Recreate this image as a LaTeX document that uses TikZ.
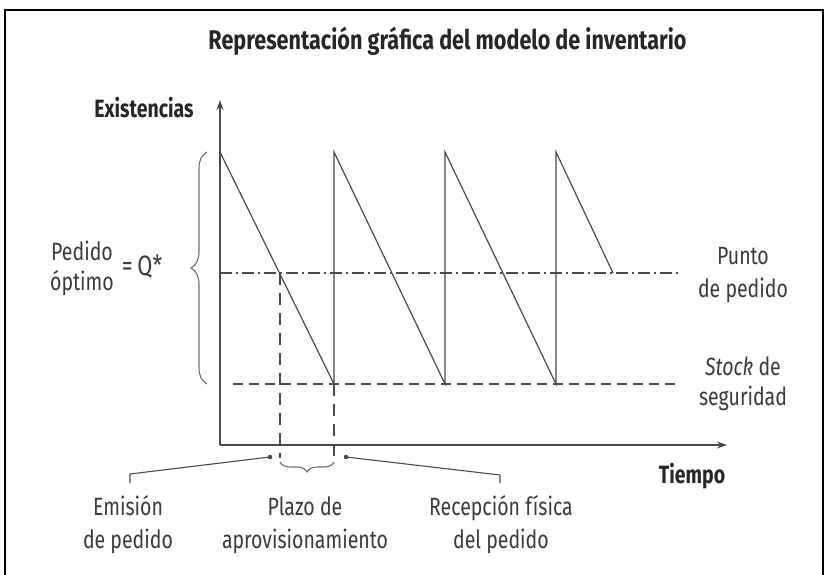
\documentclass[tikz,border=0pt]{standalone}
\usepackage{fontspec}
\setmainfont[FakeStretch=0.78]{Fira Sans}
\newfontfamily\titlefam[FakeStretch=0.8]{Fira Sans}
\newfontfamily\boldfam[FakeStretch=0.78]{Fira Sans}
\usetikzlibrary{decorations.pathreplacing,arrows.meta}
\definecolor{ink}{HTML}{3A3A3A}
\definecolor{dark}{HTML}{262626}
\definecolor{lin}{HTML}{4A4A4A}
\begin{document}
\begin{tikzpicture}[x=1pt,y=-1pt,
  lbl/.style={font=\fontsize{25}{33}\selectfont, text=ink, align=center, inner sep=0pt, anchor=base},
  tightlbl/.style={lbl, font=\fontsize{25}{30}\selectfont},
  boldlbl/.style={font=\fontsize{25}{30}\selectfont\boldfam\bfseries, text=dark, inner sep=0pt, anchor=base},
  axisline/.style={draw=lin, line width=1.6pt, -{Stealth[length=10pt,width=7pt]}},
  saw/.style={draw=lin, line width=1.2pt, line join=miter},
  dashdotline/.style={draw=lin, line width=1.1pt, dash pattern=on 12pt off 4pt on 2pt off 4pt},
  dashline/.style={draw=lin, line width=1.1pt, dash pattern=on 10pt off 6pt},
  vdashline/.style={draw=lin, line width=1.1pt, dash pattern=on 12pt off 8pt},
  bracestyle/.style={draw=lin!80, line width=1.1pt, decorate},
  leader/.style={draw=lin, line width=1.1pt},
  dotmark/.style={circle, fill=lin, inner sep=0pt, minimum size=4.5pt}
]
\useasboundingbox (0,0) rectangle (828,575);
% frame
\draw[line width=2pt, black] (5,577) -- (5,10) -- (823,10) -- (823,577);

% title
\node[font=\fontsize{27}{30}\selectfont\titlefam\bfseries, text=dark, inner sep=0pt, anchor=base] (title) at (447.5,50) {Representación gráfica del modelo de inventario};

% axes
\coordinate (O) at (220,445);
\coordinate (ytop) at (220,100);
\coordinate (xend) at (727,445);
\draw[axisline] (O) -- (ytop);
\draw[axisline] (O) -- (xend);
\node[boldlbl] (exist) at (144,118) {Existencias};
\node[boldlbl] (tiempo) at (692,483) {Tiempo};

% sawtooth
\coordinate (p1) at (220,152);
\coordinate (b1) at (334,384);
\coordinate (p2) at (334,152);
\coordinate (b2) at (445,384);
\coordinate (p3) at (445,152);
\coordinate (b3) at (556,384);
\coordinate (p4) at (556,152);
\coordinate (e4) at (613,273);
\draw[saw] (p1) -- (b1) -- (p2) -- (b2) -- (p3) -- (b3) -- (p4) -- (e4);

% reorder point and safety stock lines
\coordinate (rp0) at (220,273);
\coordinate (rp1) at (680,273);
\coordinate (ss0) at (233,384);
\coordinate (ss1) at (678,384);
\draw[dashdotline] (rp0) -- (rp1);
\draw[dashline] (ss0) -- (ss1);

% lead time verticals
\coordinate (em) at (280,273);
\coordinate (emb) at (280,458);
\coordinate (reb) at (334,458);
\draw[vdashline] (em) -- (emb);
\draw[vdashline] (b1) -- (reb);

% lead time brace
\coordinate (br0) at (280,462);
\coordinate (br1) at (334,462);
\draw[bracestyle, decoration={brace, amplitude=10pt, mirror}] (br0) -- (br1);

% left brace Q*
\coordinate (lb0) at (207,384);
\coordinate (lb1) at (207,152);
\draw[bracestyle, decoration={brace, amplitude=16pt}] (lb0) -- (lb1);

% labels (base anchor = baseline of the last line)
\node[tightlbl] (pedido) at (82,290) {Pedido\\óptimo};
\node[lbl, font=\fontsize{28}{30}\selectfont] (qstar) at (142,276) {=\,Q*};
\node[lbl] (punto) at (743,297) {Punto\\de pedido};
\node[tightlbl] (stock) at (743,405) {\textit{Stock} de\\seguridad};
\node[lbl] (emision) at (128,548) {Emisión\\de pedido};
\node[lbl] (plazo) at (305,548) {Plazo de\\aprovisionamiento};
\node[lbl] (recep) at (501,548) {Recepción física\\del pedido};

% leaders
\node[dotmark] (d1) at (270,457) {};
\node[dotmark] (d2) at (346,457) {};
\coordinate (l1a) at (130,483);
\coordinate (l1b) at (130,474);
\coordinate (l2a) at (500,483);
\coordinate (l2b) at (500,475);
\draw[leader] (l1a) -- (l1b) -- (d1.center);
\draw[leader] (l2a) -- (l2b) -- (d2.center);
\end{tikzpicture}
\end{document}
